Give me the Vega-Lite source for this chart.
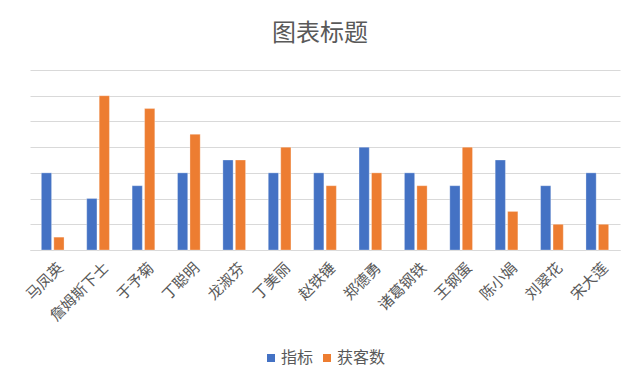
{
  "$schema": "https://vega.github.io/schema/vega-lite/v6.json",
  "autosize": {"type": "none"},
  "width": 590,
  "height": 180,
  "padding": {"left": 30, "top": 70, "right": 20, "bottom": 135},
  "background": "white",
  "title": {
    "text": "图表标题",
    "fontSize": 24,
    "font": "Noto Sans CJK SC",
    "fontWeight": "normal",
    "color": "#595959",
    "anchor": "middle",
    "offset": 24,
    "dx": -5
  },
  "data": {
    "values": [
      {"name": "马凤英", "series": "指标", "value": 3},
      {"name": "马凤英", "series": "获客数", "value": 0.5},
      {"name": "詹姆斯下士", "series": "指标", "value": 2},
      {"name": "詹姆斯下士", "series": "获客数", "value": 6},
      {"name": "于予菊", "series": "指标", "value": 2.5},
      {"name": "于予菊", "series": "获客数", "value": 5.5},
      {"name": "丁聪明", "series": "指标", "value": 3},
      {"name": "丁聪明", "series": "获客数", "value": 4.5},
      {"name": "龙淑芬", "series": "指标", "value": 3.5},
      {"name": "龙淑芬", "series": "获客数", "value": 3.5},
      {"name": "丁美丽", "series": "指标", "value": 3},
      {"name": "丁美丽", "series": "获客数", "value": 4},
      {"name": "赵铁锤", "series": "指标", "value": 3},
      {"name": "赵铁锤", "series": "获客数", "value": 2.5},
      {"name": "郑德勇", "series": "指标", "value": 4},
      {"name": "郑德勇", "series": "获客数", "value": 3},
      {"name": "诸葛钢铁", "series": "指标", "value": 3},
      {"name": "诸葛钢铁", "series": "获客数", "value": 2.5},
      {"name": "王钢蛋", "series": "指标", "value": 2.5},
      {"name": "王钢蛋", "series": "获客数", "value": 4},
      {"name": "陈小娟", "series": "指标", "value": 3.5},
      {"name": "陈小娟", "series": "获客数", "value": 1.5},
      {"name": "刘翠花", "series": "指标", "value": 2.5},
      {"name": "刘翠花", "series": "获客数", "value": 1},
      {"name": "宋大莲", "series": "指标", "value": 3},
      {"name": "宋大莲", "series": "获客数", "value": 1}
    ]
  },
  "mark": {"type": "bar", "stroke": "white", "strokeWidth": 0.5, "strokeOpacity": 0.6},
  "encoding": {
    "x": {
      "field": "name",
      "type": "nominal",
      "sort": null,
      "scale": {"paddingInner": 0.5, "paddingOuter": 0.25},
      "axis": {
        "title": null,
        "labelAngle": -45,
        "labelAlign": "right",
        "labelBaseline": "top",
        "labelFont": "Noto Sans CJK SC",
        "labelFontSize": 15,
        "labelColor": "#595959",
        "labelPadding": 10,
        "labelOffset": 3,
        "ticks": false,
        "domainColor": "#d9d9d9",
        "domainWidth": 1
      }
    },
    "xOffset": {
      "field": "series",
      "type": "nominal",
      "sort": ["指标", "获客数"],
      "scale": {"paddingInner": 0.18}
    },
    "y": {
      "field": "value",
      "type": "quantitative",
      "scale": {"domain": [0, 7], "nice": false},
      "axis": {
        "title": null,
        "labels": false,
        "ticks": false,
        "domain": false,
        "values": [0, 1, 2, 3, 4, 5, 6, 7],
        "gridColor": "#d9d9d9",
        "gridWidth": 1
      }
    },
    "color": {
      "field": "series",
      "type": "nominal",
      "scale": {"domain": ["指标", "获客数"], "range": ["#4472C4", "#ED7D31"]},
      "legend": {
        "title": null,
        "orient": "none",
        "legendX": 233,
        "legendY": 280,
        "direction": "horizontal",
        "padding": 0,
        "symbolType": "square",
        "symbolSize": 64,
        "symbolStrokeWidth": 0,
        "symbolOffset": 0,
        "labelOffset": 2,
        "labelFont": "Noto Sans CJK SC",
        "labelFontSize": 16,
        "labelColor": "#595959",
        "columnPadding": 5
      }
    }
  },
  "config": {
    "view": {"stroke": null}
  }
}
